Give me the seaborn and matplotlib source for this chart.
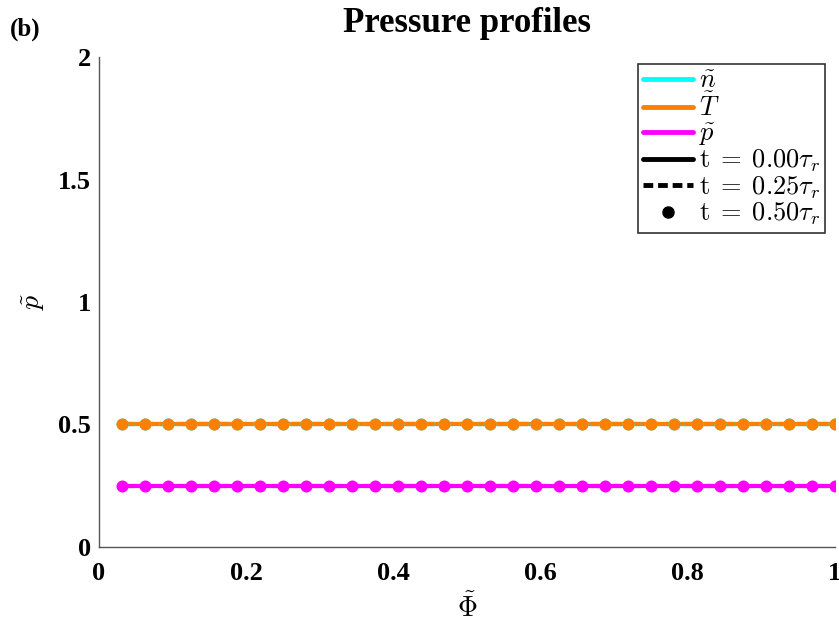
import numpy as np
import pandas as pd
import matplotlib
matplotlib.use("Agg")
import matplotlib.pyplot as plt
from matplotlib.lines import Line2D
import seaborn as sns

# ---- data ----
phi = np.linspace(1 / 32, 1.0, 32)          # normalized flux grid
n_vals = [0.5] * 32
T_vals = [0.5] * 32
p_vals = [0.25] * 32
times = ["0.00", "0.25", "0.50"]
series_names = [r"$\tilde{n}$", r"$\tilde{T}$", r"$\tilde{p}$"]
series_colors = ["#00ffff", "#ff8000", "#ff00ff"]
x_ticks = [0, 0.2, 0.4, 0.6, 0.8, 1]
x_ticklabels = ["0", "0.2", "0.4", "0.6", "0.8", "1"]
y_ticks = [0, 0.5, 1, 1.5, 2]
y_ticklabels = ["0", "0.5", "1", "1.5", "2"]

sns.set_theme(style="white")
plt.rcParams["font.family"] = ["Liberation Serif", "DejaVu Serif"]
plt.rcParams["mathtext.fontset"] = "cm"
plt.rcParams["text.color"] = "black"
plt.rcParams["axes.labelcolor"] = "black"

fig = plt.figure(figsize=(8.39, 6.23), dpi=100)
ax = fig.add_axes([0.118, 0.122, 0.877, 0.7865])

values = [n_vals, T_vals, p_vals]
# t = 0.00 solid
for v, c in zip(values, series_colors):
    df = pd.DataFrame({"x": phi, "y": v})
    sns.lineplot(data=df, x="x", y="y", ax=ax, color=c, lw=3, linestyle="-")
# t = 0.25 dashed
for v, c in zip(values, series_colors):
    df = pd.DataFrame({"x": phi, "y": v})
    sns.lineplot(data=df, x="x", y="y", ax=ax, color=c, lw=3, linestyle=(0, (3, 1.5)))
# t = 0.50 dots
for v, c in zip(values, series_colors):
    df = pd.DataFrame({"x": phi, "y": v})
    sns.scatterplot(data=df, x="x", y="y", ax=ax, color=c, s=75, edgecolor=c, linewidth=0, zorder=3)

ax.set_xlim(0, 1)
ax.set_ylim(0, 2)
ax.set_xticks(x_ticks)
ax.set_xticklabels(x_ticklabels, fontsize=19, fontweight="bold")
ax.set_yticks(y_ticks)
ax.set_yticklabels(y_ticklabels, fontsize=19, fontweight="bold")
ax.tick_params(axis="x", pad=11)
ax.tick_params(axis="y", pad=6)
ax.tick_params(direction="in", length=5, color="#555555", labelcolor="black", width=1)
for s in ["top", "right"]:
    ax.spines[s].set_visible(False)
for s in ["left", "bottom"]:
    ax.spines[s].set_color("#555555")
    ax.spines[s].set_linewidth(1)

ax.set_xlabel(r"$\tilde{\Phi}$", fontsize=20, labelpad=6)
ax.set_ylabel(r"$\tilde{p}$", fontsize=20, labelpad=8)
ax.set_title("Pressure profiles", fontsize=25, fontweight="bold", pad=18, color="black")
fig.text(0.012, 0.943, "(b)", fontsize=18, fontweight="bold")

handles = [Line2D([], [], color=c, lw=3.5) for c in series_colors]
handles += [
    Line2D([], [], color="black", lw=3.5, linestyle="-"),
    Line2D([], [], color="black", lw=3.5, linestyle=(0, (2, 1))),
    Line2D([], [], color="black", lw=0, marker="o", markersize=8),
]
labels = series_names + [rf"$\mathrm{{t}}\;=\;{t}\tau_r$" for t in times]
leg = ax.legend(handles, labels, loc="upper right", bbox_to_anchor=(0.987, 0.985),
                fontsize=19, frameon=True, fancybox=False, edgecolor="black",
                handlelength=1.9, handletextpad=0.2, labelspacing=0.0,
                borderpad=0.2, borderaxespad=0.0)
leg.get_frame().set_linewidth(1.2)

fig.savefig("out.png", dpi=100)
